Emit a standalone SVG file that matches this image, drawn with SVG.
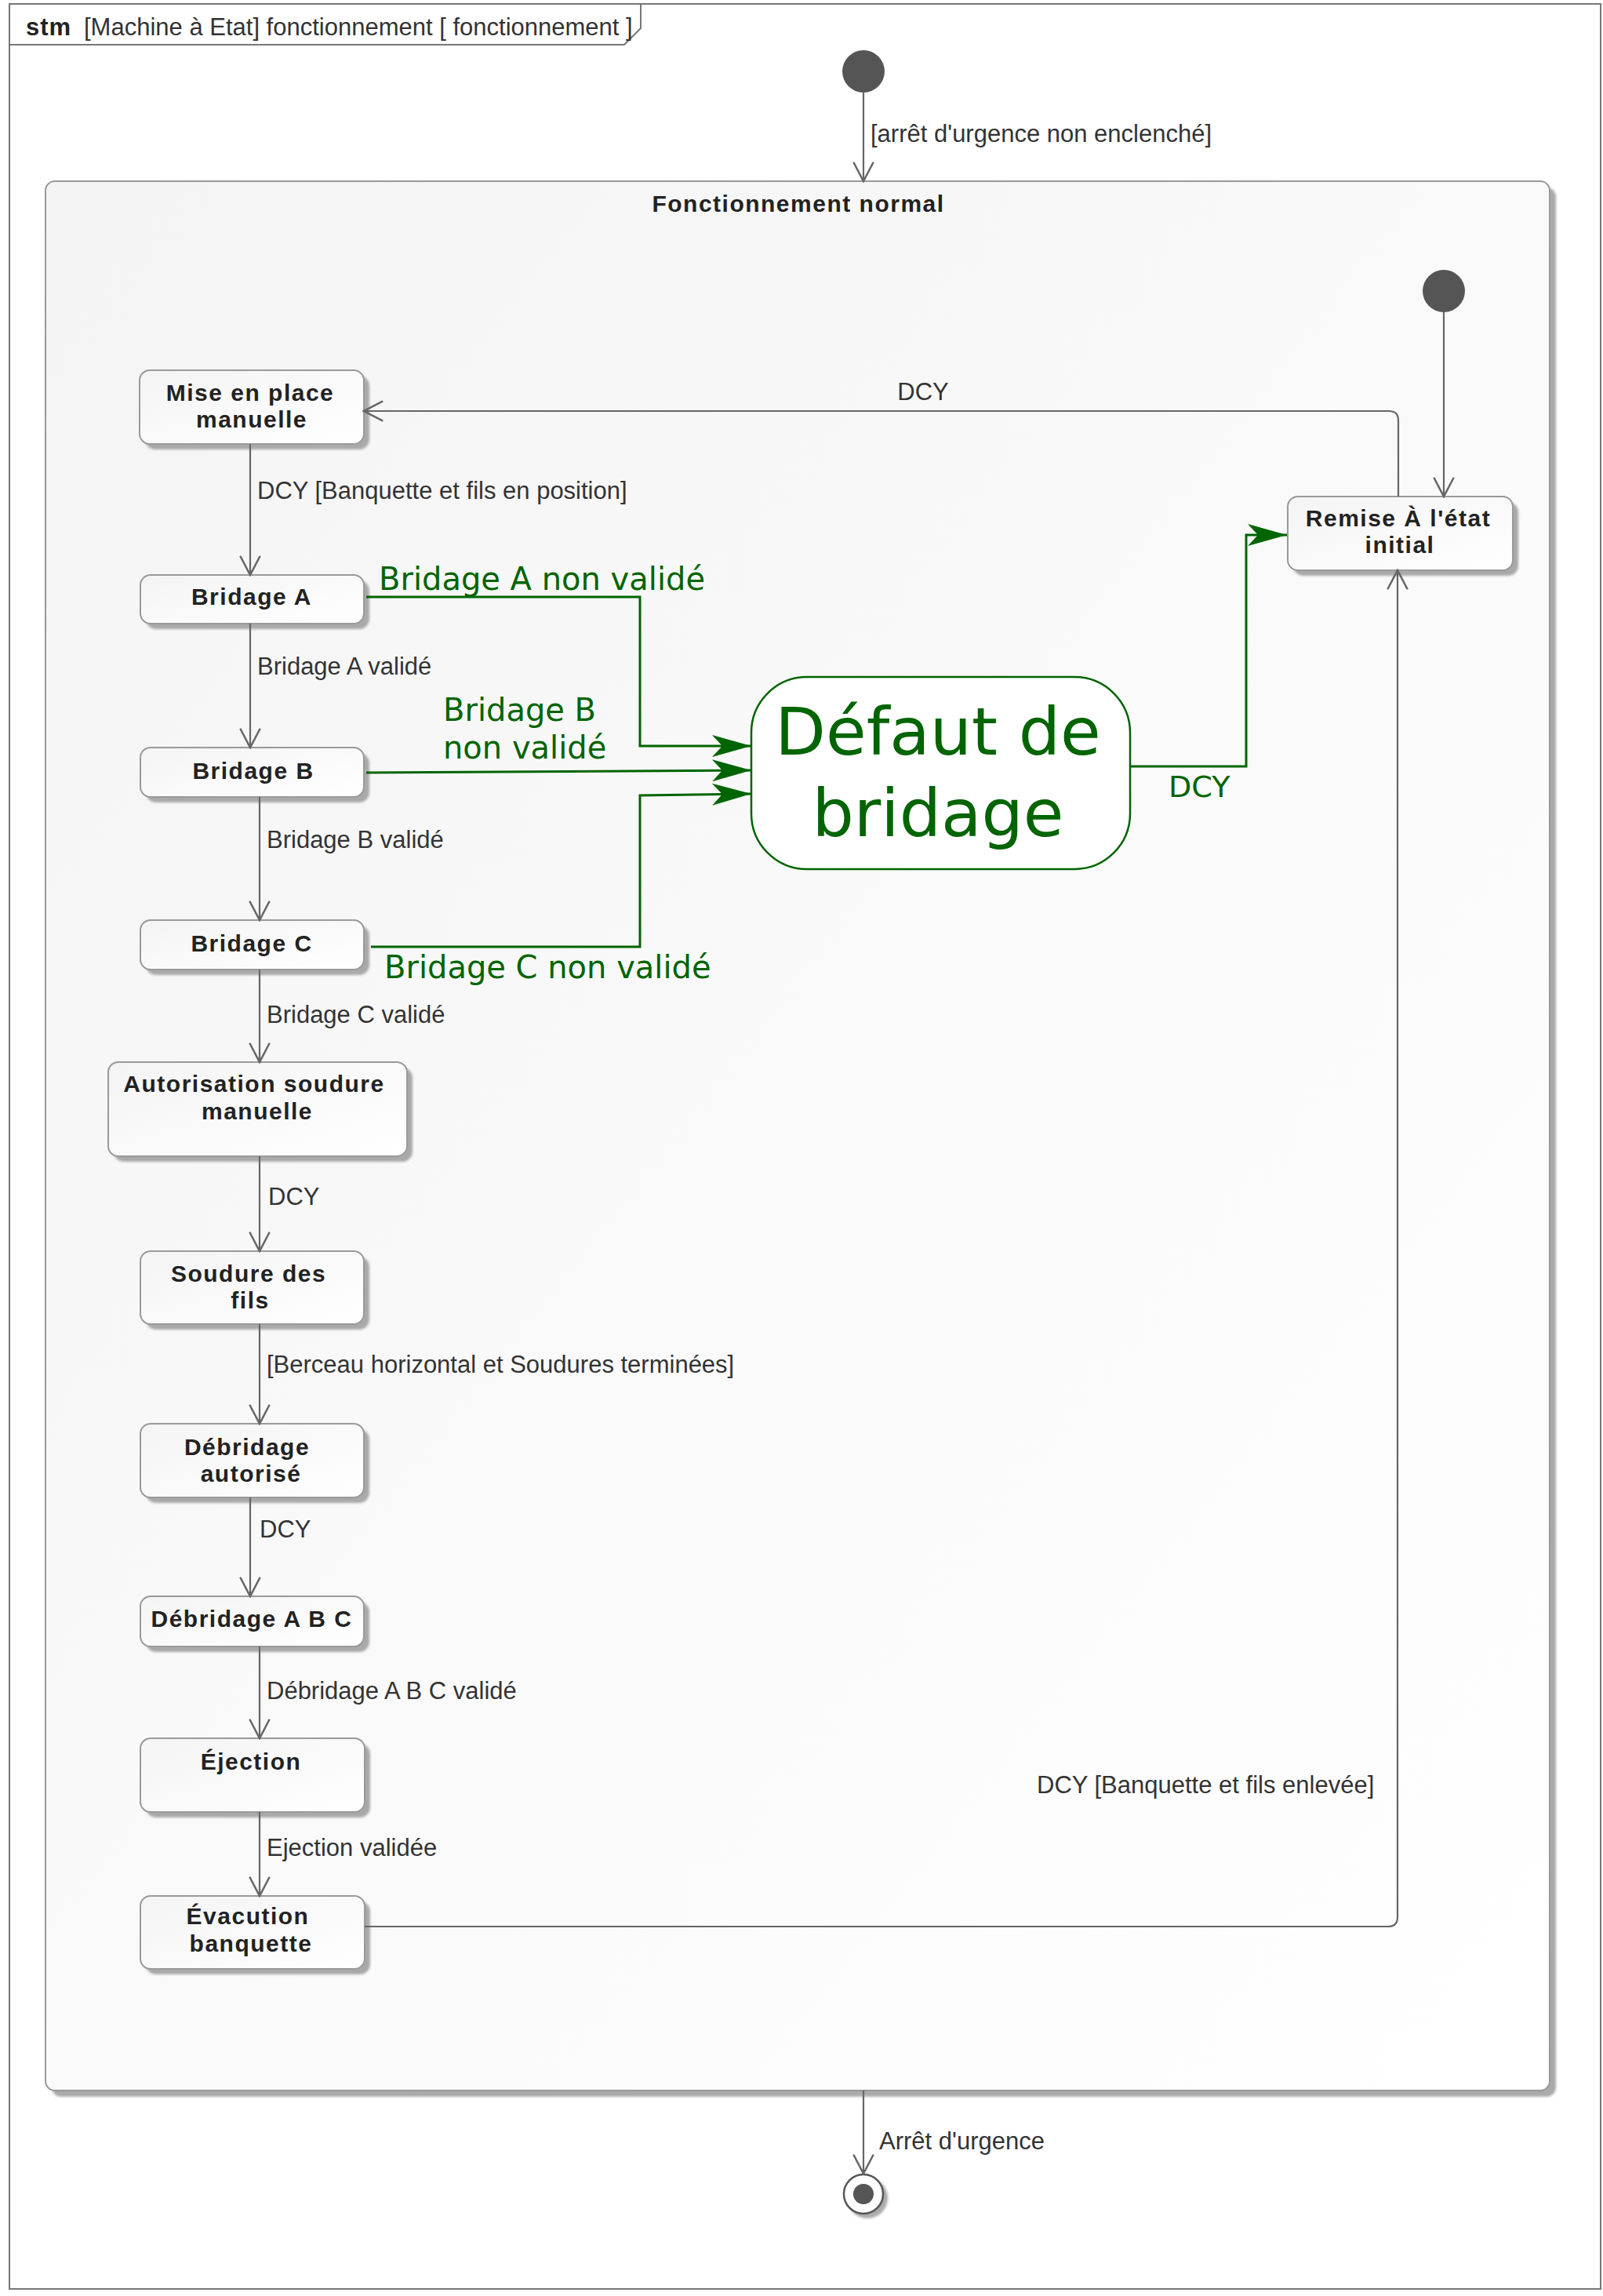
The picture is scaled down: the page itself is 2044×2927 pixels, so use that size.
<svg xmlns="http://www.w3.org/2000/svg" width="2044" height="2927" viewBox="0 0 2044 2927">
<defs>
<style>
.lbl{font-family:"Liberation Sans",Arial,sans-serif;font-size:31px;fill:#333}
.nt{font-family:"Liberation Sans",Arial,sans-serif;font-size:30px;font-weight:bold;fill:#222;letter-spacing:1.5px;text-anchor:middle}
.gt{font-family:"DejaVu Sans","Noto Sans",sans-serif;fill:#006400}
.node{fill:url(#ng);stroke:#9a9a9a;stroke-width:2}
.shadow{fill:#a9a9a9;filter:url(#blur)}
.conn{fill:none;stroke:#666;stroke-width:2.2}
.gconn{fill:none;stroke:#006400;stroke-width:3}
</style>
<linearGradient id="ng" x1="0" y1="0" x2="1" y2="1">
<stop offset="0" stop-color="#f4f4f4"/><stop offset="1" stop-color="#ffffff"/>
</linearGradient>
<linearGradient id="cg" x1="0" y1="0" x2="1" y2="1">
<stop offset="0" stop-color="#f4f4f4"/><stop offset="1" stop-color="#ffffff"/>
</linearGradient>
<filter id="blur" x="-10%" y="-10%" width="120%" height="120%"><feGaussianBlur stdDeviation="1.5"/></filter>
<marker id="open" markerUnits="userSpaceOnUse" markerWidth="30" markerHeight="30" viewBox="-24 -13 26 26" refX="0" refY="0" orient="auto">
<path d="M-21,-11 L0,0 L-21,11" fill="none" stroke="#666" stroke-width="2.2"/>
</marker>
<marker id="barb" markerUnits="userSpaceOnUse" markerWidth="56" markerHeight="32" viewBox="-52 -16 54 32" refX="0" refY="0" orient="auto">
<path d="M0,0 L-50,-14 L-37,0 L-50,14 Z" fill="#006400"/>
</marker>
</defs>

<g id="frame">
<rect x="12" y="5" width="2029" height="2913" fill="#fff" stroke="#777" stroke-width="2"/>
<path d="M12,57 H796 L817,36 V5" fill="none" stroke="#777" stroke-width="2"/>
<text x="33" y="45" font-family="Liberation Sans,Arial,sans-serif" font-size="31" font-weight="bold" fill="#222" letter-spacing="1">stm</text>
<text x="107" y="45" class="lbl">[Machine à Etat] fonctionnement [ fonctionnement ]</text>
</g>

<g id="container">
<rect x="66" y="239" width="1918" height="2434" rx="12" fill="#aaa" filter="url(#blur)"/>
<rect x="58" y="231" width="1918" height="2434" rx="12" fill="url(#cg)" stroke="#999" stroke-width="2"/>
<text x="1018" y="270" class="nt">Fonctionnement normal</text>
</g>

<g id="initial-outer"><circle cx="1101" cy="91" r="27" fill="#555"/></g>
<g id="initial-inner"><circle cx="1841" cy="371" r="27" fill="#555"/></g>
<g id="final">
<circle cx="1106" cy="2802" r="26" fill="#aaa" filter="url(#blur)"/>
<circle cx="1101" cy="2797" r="25" fill="#fff" stroke="#555" stroke-width="2.5"/>
<circle cx="1101" cy="2797" r="13" fill="#555"/>
</g>

<g id="mise-en-place">
<rect class="shadow" x="185" y="479" width="286" height="94" rx="13"/>
<rect class="node" x="178" y="472" width="286" height="94" rx="13"/>
<text class="nt" x="319" y="511">Mise en place</text>
<text class="nt" x="321" y="545">manuelle</text>
</g>
<g id="bridage-a">
<rect class="shadow" x="186" y="740" width="285" height="62" rx="13"/>
<rect class="node" x="179" y="733" width="285" height="62" rx="13"/>
<text class="nt" x="321" y="771">Bridage A</text>
</g>
<g id="bridage-b">
<rect class="shadow" x="186" y="960" width="285" height="63" rx="13"/>
<rect class="node" x="179" y="953" width="285" height="63" rx="13"/>
<text class="nt" x="323" y="993">Bridage B</text>
</g>
<g id="bridage-c">
<rect class="shadow" x="186" y="1180" width="285" height="63" rx="13"/>
<rect class="node" x="179" y="1173" width="285" height="63" rx="13"/>
<text class="nt" x="321" y="1213">Bridage C</text>
</g>
<g id="autorisation">
<rect class="shadow" x="145" y="1361" width="381" height="120" rx="13"/>
<rect class="node" x="138" y="1354" width="381" height="120" rx="13"/>
<text class="nt" x="324" y="1392">Autorisation soudure</text>
<text class="nt" x="328" y="1427">manuelle</text>
</g>
<g id="soudure">
<rect class="shadow" x="186" y="1602" width="285" height="93" rx="13"/>
<rect class="node" x="179" y="1595" width="285" height="93" rx="13"/>
<text class="nt" x="317" y="1634">Soudure des</text>
<text class="nt" x="319" y="1668">fils</text>
</g>
<g id="debridage-autorise">
<rect class="shadow" x="186" y="1822" width="285" height="94" rx="13"/>
<rect class="node" x="179" y="1815" width="285" height="94" rx="13"/>
<text class="nt" x="315" y="1855">Débridage</text>
<text class="nt" x="320" y="1889">autorisé</text>
</g>
<g id="debridage-abc">
<rect class="shadow" x="186" y="2042" width="285" height="64" rx="13"/>
<rect class="node" x="179" y="2035" width="285" height="64" rx="13"/>
<text class="nt" x="321" y="2074">Débridage A B C</text>
</g>
<g id="ejection">
<rect class="shadow" x="186" y="2223" width="286" height="94" rx="13"/>
<rect class="node" x="179" y="2216" width="286" height="94" rx="13"/>
<text class="nt" x="320" y="2256">Éjection</text>
</g>
<g id="evacuation">
<rect class="shadow" x="186" y="2424" width="286" height="93" rx="13"/>
<rect class="node" x="179" y="2417" width="286" height="93" rx="13"/>
<text class="nt" x="316" y="2453">Évacution</text>
<text class="nt" x="320" y="2488">banquette</text>
</g>
<g id="remise">
<rect class="shadow" x="1649" y="640" width="287" height="94" rx="13"/>
<rect class="node" x="1642" y="633" width="287" height="94" rx="13"/>
<text class="nt" x="1783" y="671">Remise À l'état</text>
<text class="nt" x="1785" y="705">initial</text>
</g>
<g id="defaut">
<rect x="958" y="863" width="483" height="245" rx="71" fill="#fff" stroke="#006400" stroke-width="2.5"/>
<text class="gt" x="1196" y="962" font-size="84" text-anchor="middle">Défaut de</text>
<text class="gt" x="1196" y="1066" font-size="84" text-anchor="middle">bridage</text>
</g>

<g id="connectors">
<path class="conn" d="M1101,118 V231" marker-end="url(#open)"/>
<path class="conn" d="M1841,398 V633" marker-end="url(#open)"/>
<path class="conn" d="M1783,633 V536 Q1783,524 1771,524 H464" marker-end="url(#open)"/>
<path class="conn" d="M319,566 V733" marker-end="url(#open)"/>
<path class="conn" d="M319,795 V953" marker-end="url(#open)"/>
<path class="conn" d="M331,1016 V1173" marker-end="url(#open)"/>
<path class="conn" d="M331,1236 V1354" marker-end="url(#open)"/>
<path class="conn" d="M331,1474 V1595" marker-end="url(#open)"/>
<path class="conn" d="M331,1688 V1815" marker-end="url(#open)"/>
<path class="conn" d="M319,1909 V2035" marker-end="url(#open)"/>
<path class="conn" d="M331,2099 V2216" marker-end="url(#open)"/>
<path class="conn" d="M331,2310 V2417" marker-end="url(#open)"/>
<path class="conn" d="M465,2456 H1770 Q1782,2456 1782,2444 V727" marker-end="url(#open)"/>
<path class="conn" d="M1101,2665 V2771" marker-end="url(#open)"/>

<path class="gconn" d="M467,761 H816 V951 H958" marker-end="url(#barb)"/>
<path class="gconn" d="M467,985 L958,982" marker-end="url(#barb)"/>
<path class="gconn" d="M473,1207 H816 V1014 L958,1012" marker-end="url(#barb)"/>
<path class="gconn" d="M1442,977 H1589 V682 H1641" marker-end="url(#barb)"/>

<text class="lbl" x="1110" y="181">[arrêt d'urgence non enclenché]</text>
<text class="lbl" x="1177" y="510" text-anchor="middle">DCY</text>
<text class="lbl" x="328" y="636">DCY [Banquette et fils en position]</text>
<text class="lbl" x="328" y="860">Bridage A validé</text>
<text class="lbl" x="340" y="1081">Bridage B validé</text>
<text class="lbl" x="340" y="1304">Bridage C validé</text>
<text class="lbl" x="342" y="1536">DCY</text>
<text class="lbl" x="340" y="1750">[Berceau horizontal et Soudures terminées]</text>
<text class="lbl" x="331" y="1960">DCY</text>
<text class="lbl" x="340" y="2166">Débridage A B C validé</text>
<text class="lbl" x="340" y="2366">Ejection validée</text>
<text class="lbl" x="1322" y="2286">DCY [Banquette et fils enlevée]</text>
<text class="lbl" x="1121" y="2740">Arrêt d'urgence</text>

<text class="gt" x="483" y="752" font-size="40">Bridage A non validé</text>
<text class="gt" x="565" y="919" font-size="40">Bridage B</text>
<text class="gt" x="565" y="967" font-size="40">non validé</text>
<text class="gt" x="490" y="1247" font-size="40">Bridage C non validé</text>
<text class="gt" x="1490" y="1016" font-size="38">DCY</text>
</g>
</svg>
